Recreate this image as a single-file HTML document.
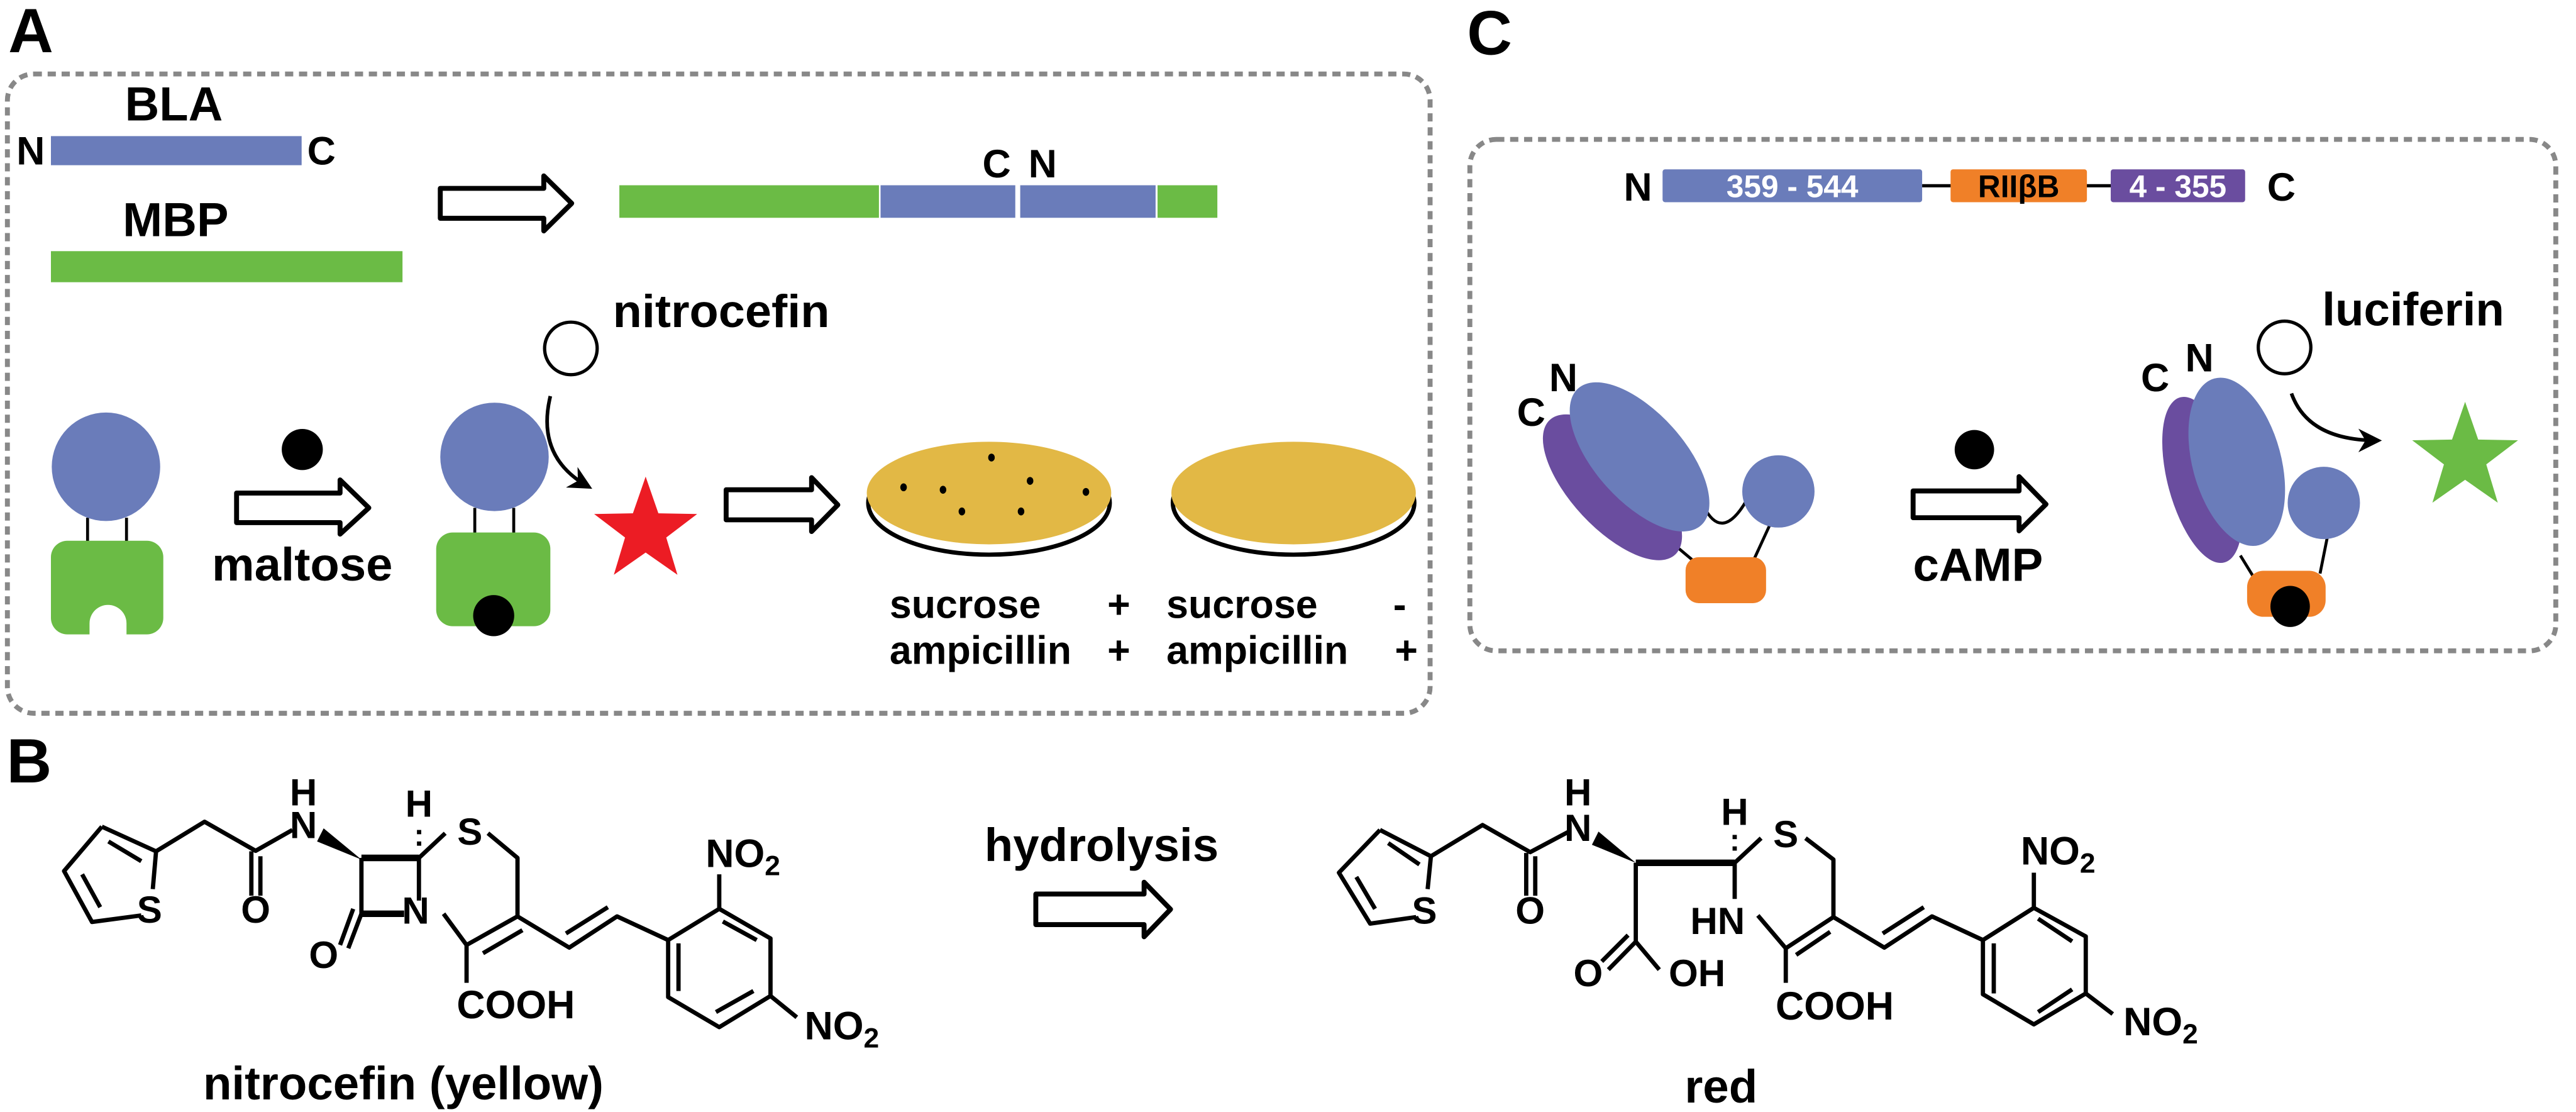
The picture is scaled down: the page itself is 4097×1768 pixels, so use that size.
<!DOCTYPE html>
<html><head><meta charset="utf-8"><style>
html,body{margin:0;padding:0;background:#fff;}
svg{display:block;}
text{font-family:"Liberation Sans",Arial,sans-serif;font-weight:bold;fill:#000;}
</style></head><body>
<svg width="4097" height="1768" viewBox="0 0 1568 676.6" xmlns="http://www.w3.org/2000/svg">
<defs>
<marker id="ah" viewBox="0 0 10 10" refX="8" refY="5" markerWidth="6.5" markerHeight="6.5" orient="auto"><path d="M0,0 L10,5 L0,10 L3,5 Z" fill="#000"/></marker>
</defs>
<rect width="1568" height="676.6" fill="#fff"/>

<text x="5" y="31.7" font-size="38">A</text>
<text x="4" y="476" font-size="38">B</text>
<text x="893" y="33" font-size="38">C</text>

<rect x="4.5" y="45" width="866" height="389" rx="16" fill="none" stroke="#888" stroke-width="3" stroke-dasharray="5,3.5"/>

<text x="76" y="73.3" font-size="29">BLA</text>
<text x="10" y="100" font-size="24">N</text>
<rect x="31" y="82.8" width="152.6" height="17.7" fill="#6a7cba"/>
<text x="187" y="100" font-size="24">C</text>
<text x="74.7" y="143.6" font-size="29">MBP</text>
<rect x="31" y="152.8" width="214" height="18.9" fill="#6bbb45"/>

<path d="M268,114.6 L331,114.6 L331,107 L348,123.7 L331,140.5 L331,132.8 L268,132.8 Z" fill="#fff" stroke="#000" stroke-width="3" stroke-linejoin="round"/>

<rect x="377" y="112.7" width="158" height="19.8" fill="#6bbb45"/>
<rect x="536" y="112.7" width="82" height="19.8" fill="#6a7cba"/>
<rect x="621" y="112.7" width="82.4" height="19.8" fill="#6a7cba"/>
<rect x="704.6" y="112.7" width="36.4" height="19.8" fill="#6bbb45"/>
<text x="598" y="108" font-size="24">C</text>
<text x="626" y="108" font-size="24">N</text>

<circle cx="347.5" cy="212" r="16" fill="#fff" stroke="#000" stroke-width="2"/>
<text x="373" y="199" font-size="28" textLength="132" lengthAdjust="spacingAndGlyphs">nitrocefin</text>

<line x1="53.3" y1="315" x2="53.3" y2="330" stroke="#000" stroke-width="1.8"/>
<line x1="77" y1="315" x2="77" y2="330" stroke="#000" stroke-width="1.8"/>
<circle cx="64.5" cy="284" r="33" fill="#6a7cba"/>
<rect x="31" y="329" width="68.4" height="57" rx="10" fill="#6bbb45"/>
<path d="M54.5,387 L54.5,379.3 A11.25,11.25 0 0 1 77,379.3 L77,387 Z" fill="#fff"/>

<circle cx="184" cy="273.5" r="12.5" fill="#000"/>
<path d="M144,300 L207,300 L207,292 L224.5,309 L207,325 L207,318 L144,318 Z" fill="#fff" stroke="#000" stroke-width="3" stroke-linejoin="round"/>
<text x="129" y="353.3" font-size="28.5" textLength="110" lengthAdjust="spacingAndGlyphs">maltose</text>

<line x1="289" y1="309" x2="289" y2="325" stroke="#000" stroke-width="1.8"/>
<line x1="312.7" y1="309" x2="312.7" y2="325" stroke="#000" stroke-width="1.8"/>
<circle cx="301" cy="278" r="33" fill="#6a7cba"/>
<rect x="265.5" y="324" width="69.5" height="57" rx="10" fill="#6bbb45"/>
<circle cx="300.5" cy="374.6" r="12.5" fill="#000"/>

<path d="M335,241 Q326,278 358,296" fill="none" stroke="#000" stroke-width="2.2" marker-end="url(#ah)"/>
<path transform="translate(393,323) scale(1.1)" d="M0,-30 L7.05,-9.7 L28.5,-9.3 L11.4,3.7 L17.6,24.3 L0,12 L-17.6,24.3 L-11.4,3.7 L-28.5,-9.3 L-7.05,-9.7 Z" fill="#ec1c24"/>

<path d="M442,298 L494,298 L494,290.6 L510,307.2 L494,323.4 L494,316.3 L442,316.3 Z" fill="#fff" stroke="#000" stroke-width="3" stroke-linejoin="round"/>

<ellipse cx="602" cy="306" rx="73.5" ry="31.5" fill="#fff" stroke="#000" stroke-width="2.6"/>
<ellipse cx="602" cy="300" rx="74.4" ry="31.2" fill="#e2b845"/>
<g fill="#000">
<ellipse cx="603.5" cy="278.4" rx="2" ry="2.4"/>
<ellipse cx="550" cy="296.5" rx="2" ry="2.4"/>
<ellipse cx="574" cy="298" rx="2" ry="2.4"/>
<ellipse cx="627" cy="292.6" rx="2" ry="2.4"/>
<ellipse cx="661" cy="299.3" rx="2" ry="2.4"/>
<ellipse cx="585.5" cy="311.2" rx="2" ry="2.4"/>
<ellipse cx="621.5" cy="311.2" rx="2" ry="2.4"/>
</g>
<ellipse cx="787.4" cy="306" rx="73.5" ry="31.5" fill="#fff" stroke="#000" stroke-width="2.6"/>
<ellipse cx="787.4" cy="300" rx="74.4" ry="31.2" fill="#e2b845"/>

<text x="541.5" y="376" font-size="24">sucrose</text>
<text x="674" y="376" font-size="24">+</text>
<text x="541.5" y="404" font-size="24">ampicillin</text>
<text x="674" y="404" font-size="24">+</text>
<text x="710" y="376" font-size="24">sucrose</text>
<text x="848" y="376" font-size="24">-</text>
<text x="710" y="404" font-size="24">ampicillin</text>
<text x="849" y="404" font-size="24">+</text>

<rect x="894.7" y="84.8" width="661" height="311.2" rx="16" fill="none" stroke="#888" stroke-width="3" stroke-dasharray="5,3.5"/>

<text x="997" y="122" font-size="24" text-anchor="middle">N</text>
<line x1="1170" y1="113" x2="1288" y2="113" stroke="#000" stroke-width="2"/>
<rect x="1012" y="103" width="158" height="20" rx="1.5" fill="#6a7cba"/>
<text x="1091" y="120" font-size="19" style="fill:#fff" text-anchor="middle">359 - 544</text>
<rect x="1187.3" y="103" width="83" height="20" rx="1.5" fill="#f08028"/>
<text x="1228.8" y="120" font-size="19" text-anchor="middle">RIIβB</text>
<rect x="1284.8" y="103" width="81.8" height="20" rx="1.5" fill="#6a4d9f"/>
<text x="1325.7" y="120" font-size="19" style="fill:#fff" text-anchor="middle">4 - 355</text>
<text x="1380" y="122" font-size="24">C</text>

<line x1="1021" y1="333" x2="1031.7" y2="342" stroke="#000" stroke-width="1.8"/>
<line x1="1077" y1="320" x2="1067.8" y2="340" stroke="#000" stroke-width="1.8"/>
<path d="M1037,308 Q1048,330 1062.8,305" fill="none" stroke="#000" stroke-width="1.8"/>
<ellipse cx="981.5" cy="296.5" rx="56" ry="25" transform="rotate(47 981.5 296.5)" fill="#6a4d9f"/>
<ellipse cx="998" cy="278" rx="56" ry="27" transform="rotate(48 998 278)" fill="#6a7cba"/>
<circle cx="1082.5" cy="299" r="22" fill="#6a7cba"/>
<rect x="1026" y="339" width="49" height="28" rx="8" fill="#f08028"/>
<text x="932" y="259" font-size="24" text-anchor="middle">C</text>
<text x="951.6" y="238" font-size="24" text-anchor="middle">N</text>

<circle cx="1201.8" cy="273.6" r="12" fill="#000"/>
<path d="M1164.5,298.7 L1229,298.7 L1229,290 L1245.4,306.8 L1229,323 L1229,315 L1164.5,315 Z" fill="#fff" stroke="#000" stroke-width="3" stroke-linejoin="round"/>
<text x="1204" y="353.5" font-size="28.5" text-anchor="middle">cAMP</text>

<line x1="1363.7" y1="338" x2="1372" y2="351.5" stroke="#000" stroke-width="1.8"/>
<line x1="1416.8" y1="326" x2="1412.2" y2="349" stroke="#000" stroke-width="1.8"/>
<ellipse cx="1340.5" cy="292" rx="21" ry="52" transform="rotate(-15 1340.5 292)" fill="#6a4d9f"/>
<ellipse cx="1361.5" cy="281" rx="27" ry="52.5" transform="rotate(-15 1361.5 281)" fill="#6a7cba"/>
<circle cx="1414.5" cy="306" r="22" fill="#6a7cba"/>
<rect x="1367.8" y="347.3" width="47.8" height="28" rx="10" fill="#f08028"/>
<ellipse cx="1394" cy="369" rx="12" ry="12.5" fill="#000"/>
<text x="1311.8" y="238" font-size="24" text-anchor="middle">C</text>
<text x="1338.8" y="226" font-size="24" text-anchor="middle">N</text>
<circle cx="1390.6" cy="211.4" r="16" fill="#fff" stroke="#000" stroke-width="2"/>
<text x="1413.5" y="198" font-size="28.5">luciferin</text>
<path d="M1394.8,239.4 Q1405,268 1447,268" fill="none" stroke="#000" stroke-width="2.2" marker-end="url(#ah)"/>
<path transform="translate(1500.5,278.4) scale(1.13)" d="M0,-30 L7.05,-9.7 L28.5,-9.3 L11.4,3.7 L17.6,24.3 L0,12 L-17.6,24.3 L-11.4,3.7 L-28.5,-9.3 L-7.05,-9.7 Z" fill="#6bbb45"/>

<g fill="none" stroke="#000" stroke-width="2.6" stroke-linejoin="round" stroke-linecap="butt">
<path d="M62,503 L95,518 L93,541 M86,557 L56,561 L39,530 L62,503 M66,512 L86,524 M50,532 L61,552"/>
<path d="M95,518 L124.5,500 L155.6,517.7 L178,505 M153,518 L153,545 M158.5,521 L158.5,545"/>
<path d="M220,522 L220,556 M255,522 L255,548" />
<path d="M220,522 L255,522 M220,556 L246,556" stroke-width="4"/>
<path d="M220,556 L212,577 M215,553 L207,575"/>
<path d="M255,522 L271,507 M297,507 L315,522 L315,557.6 L284,575 M318,566 L294,580 M284,575 L270,556 M284,575 L284,598"/>
<path d="M315,557.6 L346.5,576.6 L375.6,557.6 L406.7,572 M344.5,568 L370,552"/>
<path d="M406.7,572 L437.8,553 L469,571 L469,606 L437.8,625 L406.7,606.7 Z M440,560.7 L460.6,572 M413,574 L413,603 M435.8,615.8 L458.6,603"/>
<path d="M437.8,553 L437.8,532 M469,606 L485,619"/>
</g>
<polygon points="197,504 193,512 220,523" fill="#000"/>
<rect x="253.8" y="505" width="2.6" height="2.6" fill="#000"/>
<rect x="253.8" y="512" width="2.6" height="2.6" fill="#000"/>
<g font-size="23" text-anchor="middle">
<text x="91" y="561.5">S</text>
<text x="155.6" y="561.5">O</text>
<text x="184.7" y="510">N</text>
<text x="184.7" y="490">H</text>
<text x="253" y="562">N</text>
<text x="255" y="497">H</text>
<text x="197" y="589">O</text>
<text x="286" y="514">S</text>
</g>
<text x="278" y="619.6" font-size="24">COOH</text>
<text x="429.5" y="527.6" font-size="24">NO<tspan font-size="17" dy="5">2</tspan></text>
<text x="489.7" y="632.4" font-size="24">NO<tspan font-size="17" dy="5">2</tspan></text>
<text x="245.5" y="669" font-size="28.5" text-anchor="middle">nitrocefin (yellow)</text>

<text x="670.5" y="524" font-size="28.5" text-anchor="middle">hydrolysis</text>
<path d="M630.5,544 L696.4,544 L696.4,536.8 L712.5,553.3 L696.4,570 L696.4,562.6 L630.5,562.6 Z" fill="#fff" stroke="#000" stroke-width="3" stroke-linejoin="round"/>

<g fill="none" stroke="#000" stroke-width="2.6" stroke-linejoin="round">
<path d="M840,505 L871,521 L869,541 M862,558 L834,562 L815,531 L840,505 M845,513 L864,526 M825.6,533.6 L837,553"/>
<path d="M871,521 L902.4,502 L931.4,518.5 L955,506 M929,519 L929,545 M934.5,521 L934.5,545"/>
<path d="M995.7,525 L1055.9,525" stroke-width="4"/>
<path d="M1055.9,525 L1072,510 M1099,510 L1116,523 L1116,558 L1087,577 M1114,567 L1093.3,581 M1087,577 L1070,557 M1055.9,525 L1055.9,547 M1087,577 L1087,598"/>
<path d="M995.7,525 L995.7,573 L979,590 M991,569 L975,585 M995.7,573 L1010,590"/>
<path d="M1116,558 L1147,576.6 L1176,557.6 L1207,572 M1146,568 L1171,552"/>
<path d="M1207,572 L1238,552.4 L1269.6,569.8 L1269.6,604.5 L1238,623.3 L1207,605 Z M1240.6,559 L1261.3,572.8 M1213.6,574 L1213.6,604.5 M1240.6,615.8 L1261.3,602"/>
<path d="M1238,552.4 L1238,531 M1269.6,604.5 L1286,617"/>
</g>
<polygon points="973,506 969,514 995.7,525" fill="#000"/>
<rect x="1054.6" y="508" width="2.6" height="2.6" fill="#000"/>
<rect x="1054.6" y="515" width="2.6" height="2.6" fill="#000"/>
<g font-size="23" text-anchor="middle">
<text x="867" y="562">S</text>
<text x="931.4" y="562">O</text>
<text x="960.5" y="511.7">N</text>
<text x="960.5" y="490">H</text>
<text x="1055.9" y="502">H</text>
<text x="1087" y="515.5">S</text>
<text x="1045.5" y="568.3">HN</text>
<text x="966.7" y="600">O</text>
<text x="1033" y="600">OH</text>
</g>
<text x="1080.8" y="620.3" font-size="24">COOH</text>
<text x="1230" y="526" font-size="24">NO<tspan font-size="17" dy="5">2</tspan></text>
<text x="1292.5" y="630" font-size="24">NO<tspan font-size="17" dy="5">2</tspan></text>
<text x="1047.6" y="670.8" font-size="28.5" text-anchor="middle">red</text>
</svg>
</body></html>
